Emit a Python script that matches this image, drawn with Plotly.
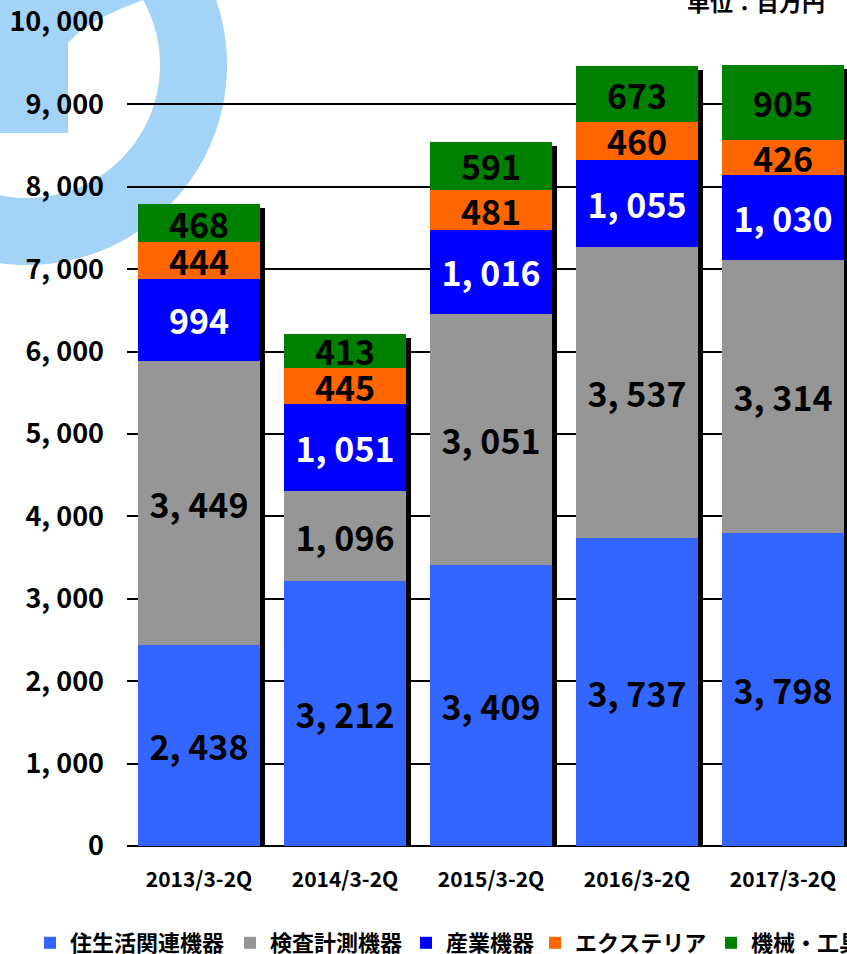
import numpy as np
import plotly.graph_objects as go

# ---------------- data ----------------
categories = ["2013/3-2Q", "2014/3-2Q", "2015/3-2Q", "2016/3-2Q", "2017/3-2Q"]
series_names = ["住生活関連機器", "検査計測機器", "産業機器", "エクステリア", "機械・工具"]
housing = [2438, 3212, 3409, 3737, 3798]
inspection = [3449, 1096, 3051, 3537, 3314]
industrial = [994, 1051, 1016, 1055, 1030]
exterior = [444, 445, 481, 460, 426]
machinery = [468, 413, 591, 673, 905]
y_tickvals = [0, 1000, 2000, 3000, 4000, 5000, 6000, 7000, 8000, 9000, 10000]
y_ticktext = ["0", "1, 000", "2, 000", "3, 000", "4, 000", "5, 000",
              "6, 000", "7, 000", "8, 000", "9, 000", "10, 000"]
unit_text = "単位：百万円"

series_values = [housing, inspection, industrial, exterior, machinery]
colors = ["#3366FF", "#969696", "#0000FF", "#FF6600", "#008000"]
text_colors = ["black", "black", "white", "black", "black"]

# ---------------- layout geometry ----------------
W, H = 847, 954
L, R, T, B = 127, 0, 22, 108
PW, PH = W - L - R, H - T - B


def px(x):
    return (x - L) / PW


def py(y):
    return 1 - (y - T) / PH


FONT = "Noto Sans CJK JP, sans-serif"

xr_main = [-0.493, 4.438]
shift = 5 / 146.0
xr_shadow = [xr_main[0] - shift, xr_main[1] - shift]
ymax = 10000
units_per_px = ymax / PH

fig = go.Figure()

# shadow bars (drawn beneath)
totals = [sum(v) for v in zip(*series_values)]
fig.add_trace(go.Bar(
    x=categories, y=[t - 4 * units_per_px for t in totals],
    xaxis="x", yaxis="y", marker=dict(color="black", line=dict(width=0)),
    width=0.835, showlegend=False, hoverinfo="skip",
))

legend_ids = ["legend", "legend2", "legend3", "legend4", "legend5"]
for name, vals, col, tcol, lid in zip(series_names, series_values, colors, text_colors, legend_ids):
    fig.add_trace(go.Bar(
        name=name, x=categories, y=vals, xaxis="x2", yaxis="y",
        marker=dict(color=col, line=dict(width=0)), width=0.835,
        text=[f"{v:,}".replace(",", ", ") for v in vals],
        textposition="inside", insidetextanchor="middle", textangle=0,
        constraintext="none",
        textfont=dict(family=FONT, size=34, color=tcol, weight="bold"),
        legend=lid,
    ))

# watermark (decorative ring)
cx, cy, r_in, r_out = 27, 65, 133, 200
th = np.linspace(0, 2 * np.pi, 181)
outer = [(cx + r_out * np.cos(a), cy + r_out * np.sin(a)) for a in th]
inner = [(cx + r_in * np.cos(a), cy + r_in * np.sin(a)) for a in th[::-1]]


def path_of(pts):
    return "M " + " L ".join(f"{px(x):.5f},{py(y):.5f}" for x, y in pts) + " Z"


ring_path = path_of(outer) + " " + path_of(inner)
block = [(-10, -10), (150, -10), (143, 0), (120, 9), (97, 20), (80, 31), (68, 43),
         (68, 133), (-10, 133)]
wm = "#A3D3F7"
shapes = [
    dict(type="path", xref="paper", yref="paper", path=ring_path, fillcolor=wm,
         line=dict(width=0), layer="below"),
    dict(type="path", xref="paper", yref="paper", path=path_of(block), fillcolor=wm,
         line=dict(width=0), layer="below"),
]

# legends (one per entry)
sym_centers = [47, 247, 423, 552, 728]
legend_y = py(943)
leg_layout = {}
for lid, sc in zip(legend_ids, sym_centers):
    leg_layout[lid] = dict(
        x=px(sc - 17), y=legend_y, xanchor="left", yanchor="middle",
        orientation="h", bgcolor="rgba(0,0,0,0)", borderwidth=0,
        font=dict(family=FONT, size=22, color="black", weight="bold"),
        itemwidth=30, itemclick=False, itemdoubleclick=False,
    )

fig.update_layout(
    width=W, height=H,
    margin=dict(l=L, r=R, t=T, b=B, pad=0, autoexpand=False),
    paper_bgcolor="white", plot_bgcolor="rgba(0,0,0,0)",
    barmode="stack", bargap=0.165,
    showlegend=True,
    uniformtext=dict(mode="show", minsize=34),
    shapes=shapes,
    xaxis=dict(range=xr_shadow, showticklabels=False, showgrid=False,
               zeroline=False, showline=False, ticks="", fixedrange=True),
    xaxis2=dict(range=xr_main, overlaying="x", side="bottom", showgrid=False,
                zeroline=False, showline=False, ticks="",
                ticklabelstandoff=19,
                tickfont=dict(family=FONT, size=21, color="black", weight="bold")),
    yaxis=dict(range=[0, ymax], tickvals=y_tickvals, ticktext=y_ticktext,
               showgrid=True, gridcolor="black", gridwidth=2,
               zeroline=True, zerolinecolor="black", zerolinewidth=2,
               showline=False, ticks="", ticklabelstandoff=22,
               tickfont=dict(family=FONT, size=27, color="black", weight="bold")),
    annotations=[dict(text=unit_text, xref="paper", yref="paper",
                      x=px(827), y=py(1), xanchor="right", yanchor="middle",
                      showarrow=False,
                      font=dict(family=FONT, size=23, color="black", weight="bold"))],
    **leg_layout,
)

fig.write_html("out.html", config={"displayModeBar": False},
               post_script="document.body.style.margin='0';")
